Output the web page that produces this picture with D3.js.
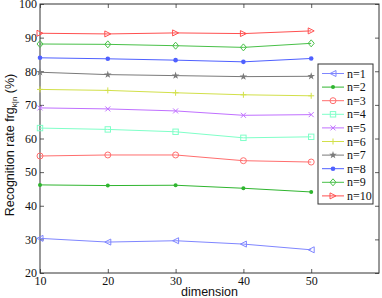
<!DOCTYPE html>
<html><head><meta charset="utf-8">
<script src="https://cdn.jsdelivr.net/npm/d3@7"></script>
<style>body{margin:0;background:#fff}svg{display:block}
.serif{font-family:"Liberation Serif","DejaVu Serif","Times New Roman",serif}
.sans{font-family:"Liberation Sans",Arial,sans-serif}</style>
</head><body>
<svg id="c" width="382" height="298"></svg>
<script>
const dims = [10, 20, 30, 40, 50];
const seriesNames = ["n=1","n=2","n=3","n=4","n=5","n=6","n=7","n=8","n=9","n=10"];
const n1 = [30.3, 29.2, 29.6, 28.6, 26.9];
const n2 = [46.2, 46.0, 46.1, 45.2, 44.1];
const n3 = [54.8, 55.1, 55.1, 53.4, 53.0];
const n4 = [63.1, 62.7, 62.0, 60.2, 60.5];
const n5 = [69.1, 68.8, 68.2, 66.9, 67.1];
const n6 = [74.6, 74.3, 73.6, 73.0, 72.7];
const n7 = [79.7, 79.0, 78.7, 78.4, 78.5];
const n8 = [84.0, 83.7, 83.3, 82.8, 83.8];
const n9 = [88.1, 88.0, 87.6, 87.1, 88.3];
const n10 = [91.3, 91.1, 91.4, 91.2, 92.0];
const xTicks = [10, 20, 30, 40, 50];
const yTicks = [20, 30, 40, 50, 60, 70, 80, 90, 100];

const allValues = [n1,n2,n3,n4,n5,n6,n7,n8,n9,n10];
const colors = ["#7f86ff","#2fb52f","#ff6e6e","#7fffc8","#c070ff","#d2e04a","#7a7a7a","#4f60ff","#48c048","#ff5050"];
const markers = ["ltri","dot","circle","square","x","plus","star","fdot","diamond","rtri"];

const svg = d3.select("#c");
const L = 40, R = 379, T = 4, B = 273;
const x = d3.scaleLinear().domain([10, 60]).range([L, R]);
const y = d3.scaleLinear().domain([20, 100]).range([B, T]);

const frame = "#333";

// axes
const gx = svg.append("g").attr("transform", `translate(0,${B})`)
  .call(d3.axisBottom(x).tickValues(xTicks).tickSize(-4).tickPadding(3).tickFormat(d3.format("d")));
const gxt = svg.append("g").attr("transform", `translate(0,${T})`)
  .call(d3.axisTop(x).tickValues(xTicks).tickSize(-4).tickFormat(""));
const gy = svg.append("g").attr("transform", `translate(${L},0)`)
  .call(d3.axisLeft(y).tickValues(yTicks).tickSize(-4).tickPadding(3).tickFormat(d3.format("d")));
const gyr = svg.append("g").attr("transform", `translate(${R},0)`)
  .call(d3.axisRight(y).tickValues(yTicks).tickSize(-4).tickFormat(""));
[gx,gxt,gy,gyr].forEach(g => {
  g.attr("font-family", null).attr("font-size", null);
  g.select(".domain").remove();
  g.selectAll(".tick line").attr("stroke", frame).attr("stroke-width", 0.8);
  g.selectAll("text").attr("class", "serif").style("font-size", "12px").attr("fill", "#111");
});
svg.append("rect").attr("x", L).attr("y", T).attr("width", R - L).attr("height", B - T)
  .attr("fill", "none").attr("stroke", frame).attr("stroke-width", 1);

function drawMarker(g, type, cx, cy, col) {
  const s = 3;
  switch (type) {
    case "ltri": g.append("path").attr("d", `M${cx-s},${cy}L${cx+s},${cy-s}L${cx+s},${cy+s}Z`).attr("fill","none").attr("stroke",col); break;
    case "rtri": g.append("path").attr("d", `M${cx+s},${cy}L${cx-s},${cy-s}L${cx-s},${cy+s}Z`).attr("fill","none").attr("stroke",col); break;
    case "dot": g.append("circle").attr("cx",cx).attr("cy",cy).attr("r",2).attr("fill",col); break;
    case "fdot": g.append("circle").attr("cx",cx).attr("cy",cy).attr("r",2.3).attr("fill",col); break;
    case "circle": g.append("circle").attr("cx",cx).attr("cy",cy).attr("r",3).attr("fill","none").attr("stroke",col); break;
    case "square": g.append("rect").attr("x",cx-2.7).attr("y",cy-2.7).attr("width",5.4).attr("height",5.4).attr("fill","none").attr("stroke",col); break;
    case "diamond": g.append("path").attr("d", `M${cx},${cy-3.5}L${cx+3},${cy}L${cx},${cy+3.5}L${cx-3},${cy}Z`).attr("fill","none").attr("stroke",col); break;
    case "x": g.append("path").attr("d", `M${cx-2.5},${cy-2.5}L${cx+2.5},${cy+2.5}M${cx-2.5},${cy+2.5}L${cx+2.5},${cy-2.5}`).attr("stroke",col); break;
    case "plus": g.append("path").attr("d", `M${cx-3},${cy}L${cx+3},${cy}M${cx},${cy-3}L${cx},${cy+3}`).attr("stroke",col); break;
    case "star": g.append("path").attr("d", d3.symbol(d3.symbolStar, 18)()).attr("transform",`translate(${cx},${cy})`).attr("fill",col); break;
  }
}

const line = d3.line().x((d, i) => x(dims[i])).y(d => y(d));
allValues.forEach((vals, k) => {
  const g = svg.append("g");
  g.append("path").datum(vals).attr("d", line).attr("fill", "none")
    .attr("stroke", colors[k]).attr("stroke-width", 1);
  vals.forEach((v, i) => drawMarker(g, markers[k], x(dims[i]), y(v), colors[k]));
});

// legend
const lg = svg.append("g");
lg.append("rect").attr("x", 318).attr("y", 64).attr("width", 55).attr("height", 140)
  .attr("fill", "#fff").attr("stroke", frame).attr("stroke-width", 1);
seriesNames.forEach((name, k) => {
  const yy = 73.5 + k * 13.6;
  lg.append("line").attr("x1", 322).attr("x2", 344).attr("y1", yy).attr("y2", yy)
    .attr("stroke", colors[k]).attr("stroke-width", 1);
  drawMarker(lg, markers[k], 333, yy, colors[k]);
  lg.append("text").attr("x", 347).attr("y", yy + 4).text(name)
    .attr("class", "serif").style("font-size", "12px").attr("fill", "#111");
});

// axis labels
svg.append("text").attr("x", (L + R) / 2).attr("y", 296).attr("text-anchor", "middle")
  .attr("class", "sans").style("font-size", "12.5px").attr("fill", "#111").text("dimension");
const yl = svg.append("text").attr("transform", "translate(14,145) rotate(-90)")
  .attr("text-anchor", "middle").attr("class", "sans").style("font-size", "12.5px").attr("fill", "#111");
yl.append("tspan").text("Recognition rate frg");
yl.append("tspan").attr("dy", 3).style("font-size", "8px").text("k|n");
yl.append("tspan").attr("dy", -3).text(" (%)");
</script>
</body></html>
